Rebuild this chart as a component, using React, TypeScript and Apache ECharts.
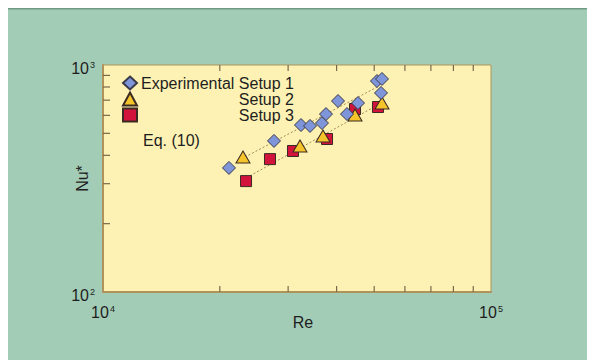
import React, { useEffect, useRef } from "react";
import * as echarts from "echarts";

// ---- data ----
const setup1Re = [21120, 27590, 32380, 34160, 36680, 37560, 40340, 42550, 45420, 50830, 52370, 52060];
const setup1Nu = [352, 463, 544, 539, 555, 608, 694, 608, 680, 850, 868, 753];
const setup2Re = [22950, 32190, 36900, 44620, 52370];
const setup2Nu = [393, 440, 487, 602, 680];
const setup3Re = [23370, 26940, 30880, 37790, 44620, 51140];
const setup3Nu = [308, 385, 418, 472, 640, 653];
const eqUpperRe = [23220, 51440];
const eqUpperNu = [393, 808];
const eqLowerRe = [23930, 50530];
const eqLowerNu = [325, 660];
const xMinorTicks = [20000, 30000, 40000, 50000, 60000, 70000, 80000, 90000];
const yMinorTicks = [200, 300, 400, 500, 600, 700, 800, 900];
const xTickValues = [10000, 100000];
const yTickValues = [100, 1000];
const seriesNames = ["Experimental Setup 1", "Setup 2", "Setup 3"];

const FONT = "'Liberation Sans', Arial, Helvetica, sans-serif";
const TEXT = "#1e1e1e";
const AXIS = "#b0935a";
const TICK = "#7a6a4a";

const pairs = (xs: number[], ys: number[]) => xs.map((x, i) => [x, ys[i]]);

const expLabel = (v: number) => {
  const e = Math.round(Math.log10(v));
  return `{b|10}{s|${e}}`;
};

const labelRich = {
  b: { fontSize: 16, fontFamily: FONT, color: TEXT, lineHeight: 16 },
  s: { fontSize: 9, fontFamily: FONT, color: TEXT, verticalAlign: "top", lineHeight: 9, padding: [0, 0, 0, 1] },
};

export default function App() {
  const ref = useRef<HTMLDivElement>(null);
  useEffect(() => {
    document.documentElement.style.overflow = "hidden";
    const chart = echarts.init(ref.current!, undefined, { renderer: "svg" });
    const option: any = {
      animation: false,
      backgroundColor: "#a2ccb6",
      textStyle: { fontFamily: FONT },
      grid: {
        left: 95,
        top: 57,
        right: 104,
        bottom: 68,
        show: true,
        backgroundColor: "#fdf2b4",
        borderColor: AXIS,
        borderWidth: 1,
      },
      legend: {
        data: seriesNames,
        orient: "vertical",
        left: 109,
        top: 62,
        itemWidth: 14,
        itemHeight: 13,
        itemGap: 0,
        selectedMode: false,
        formatter: (name: string) => `{t|${name}}`,
        textStyle: {
          rich: {
            t: { width: 152, align: "right", fontSize: 16, lineHeight: 15, fontFamily: FONT, color: TEXT },
          },
        },
      },
      xAxis: {
        type: "log",
        logBase: 10,
        min: xTickValues[0],
        max: xTickValues[1],
        name: "Re",
        nameLocation: "middle",
        nameGap: 22,
        nameMoveOverlap: false,
        nameTextStyle: { fontSize: 16, color: TEXT, fontFamily: FONT, padding: [0, 0, 0, 12] },
        axisLine: { show: true, lineStyle: { color: AXIS, width: 2 } },
        axisTick: { show: false },
        splitLine: { show: false },
        axisLabel: {
          margin: 12,
          formatter: expLabel,
          rich: labelRich,
          showMinLabel: true,
          showMaxLabel: true,
        },
      },
      yAxis: {
        type: "log",
        logBase: 10,
        min: yTickValues[0],
        max: yTickValues[1],
        name: "Nu*",
        nameLocation: "middle",
        nameGap: 13,
        nameMoveOverlap: false,
        nameTextStyle: { fontSize: 16, color: TEXT, fontFamily: FONT },
        axisLine: { show: true, lineStyle: { color: AXIS, width: 2 } },
        axisTick: { show: false },
        splitLine: { show: false },
        axisLabel: {
          margin: 8,
          padding: [6, 0, 0, 0],
          formatter: expLabel,
          rich: labelRich,
          showMinLabel: true,
          showMaxLabel: true,
        },
      },
      graphic: [
        { type: "rect", left: 0, top: 0, shape: { width: 587, height: 1.5 }, style: { fill: "#6f9b82" } },
        {
          type: "text",
          left: 135,
          top: 124,
          style: { text: "Eq. (10)", fontSize: 16, fontFamily: FONT, fill: TEXT },
        },
      ],
      series: [
        {
          type: "custom",
          silent: true,
          z: 1,
          data: xMinorTicks.map((v) => [v, yTickValues[0]]),
          renderItem: (_p: any, api: any) => {
            const v = api.value(0);
            const b = api.coord([v, yTickValues[0]]);
            const t = api.coord([v, yTickValues[1]]);
            return {
              type: "group",
              children: [
                { type: "line", shape: { x1: b[0], y1: b[1], x2: b[0], y2: b[1] - 6 }, style: { stroke: TICK, lineWidth: 1.2 } },
                { type: "line", shape: { x1: t[0], y1: t[1], x2: t[0], y2: t[1] + 6 }, style: { stroke: TICK, lineWidth: 1.2 } },
              ],
            };
          },
        },
        {
          type: "custom",
          silent: true,
          z: 1,
          data: yMinorTicks.map((v) => [xTickValues[0], v]),
          renderItem: (_p: any, api: any) => {
            const v = api.value(1);
            const l = api.coord([xTickValues[0], v]);
            return {
              type: "line",
              shape: { x1: l[0], y1: l[1], x2: l[0] + 7, y2: l[1] },
              style: { stroke: TICK, lineWidth: 1.2 },
            };
          },
        },
        {
          type: "line",
          silent: true,
          z: 1,
          data: pairs(eqUpperRe, eqUpperNu),
          showSymbol: false,
          symbol: "none",
          lineStyle: { color: "#a08a5c", width: 1, type: [2, 2] },
        },
        {
          type: "line",
          silent: true,
          z: 1,
          data: pairs(eqLowerRe, eqLowerNu),
          showSymbol: false,
          symbol: "none",
          lineStyle: { color: "#a08a5c", width: 1, type: [2, 2] },
        },
        {
          name: seriesNames[2],
          type: "scatter",
          z: 2,
          symbol: "rect",
          symbolSize: 11,
          data: pairs(setup3Re, setup3Nu),
          itemStyle: { color: "#d2143c", borderColor: "#3a2a22", borderWidth: 1, opacity: 1 },
        },
        {
          name: seriesNames[1],
          type: "scatter",
          z: 3,
          symbol: "triangle",
          symbolSize: [14, 12],
          data: pairs(setup2Re, setup2Nu),
          itemStyle: { color: "#f5c42a", borderColor: "#3a2a22", borderWidth: 1, opacity: 1 },
        },
        {
          name: seriesNames[0],
          type: "scatter",
          z: 4,
          symbol: "diamond",
          symbolSize: 13,
          data: pairs(setup1Re, setup1Nu),
          itemStyle: { color: "#7f95da", borderColor: "#3a3a4a", borderWidth: 1, opacity: 1 },
        },
      ],
    };
    chart.setOption(option);
    return () => chart.dispose();
  }, []);
  return <div ref={ref} style={{ width: 587, height: 352 }} />;
}
